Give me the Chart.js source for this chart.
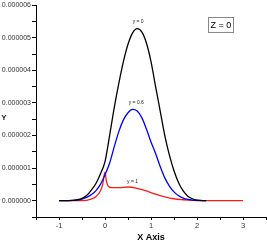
<!DOCTYPE html>
<html>
<head>
<meta charset="UTF-8">
<title>Z = 0</title>
<script src="https://cdn.jsdelivr.net/npm/chart.js"></script>
<style>
    html, body { margin: 0; padding: 0; background: #fff; }
    #wrap { width: 267px; height: 245px; }
</style>
</head>
<body>
<div id="wrap"><canvas id="chart"></canvas></div>
<script>
// curve y = 0 (black)
const blackX = [-1, -0.8, -0.6, -0.5, -0.4, -0.3, -0.2, -0.1, 0, 0.1, 0.2, 0.3, 0.4, 0.5, 0.6, 0.7, 0.8, 0.9, 1.0, 1.1, 1.2, 1.3, 1.4, 1.5, 1.6, 1.7, 1.8, 1.9, 2.0, 2.2];
const blackY = [0, 0, 0.03e-6, 0.07e-6, 0.16e-6, 0.32e-6, 0.52e-6, 0.82e-6, 1.2e-6, 2.0e-6, 2.85e-6, 3.6e-6, 4.27e-6, 4.8e-6, 5.15e-6, 5.28e-6, 5.18e-6, 4.84e-6, 4.27e-6, 3.5e-6, 2.75e-6, 2.0e-6, 1.4e-6, 0.92e-6, 0.55e-6, 0.3e-6, 0.14e-6, 0.06e-6, 0.02e-6, 0];
// curve y = 0.6 (blue)
const blueX = [-1, -0.6, -0.5, -0.4, -0.3, -0.2, -0.1, 0, 0.1, 0.2, 0.3, 0.4, 0.5, 0.6, 0.7, 0.8, 0.9, 1.0, 1.1, 1.2, 1.3, 1.4, 1.5, 1.6, 1.7, 1.8, 1.9, 2.0, 2.2];
const blueY = [0, 0.02e-6, 0.05e-6, 0.1e-6, 0.18e-6, 0.3e-6, 0.5e-6, 0.8e-6, 1.15e-6, 1.65e-6, 2.12e-6, 2.48e-6, 2.7e-6, 2.8e-6, 2.75e-6, 2.55e-6, 2.2e-6, 1.8e-6, 1.45e-6, 1.05e-6, 0.7e-6, 0.45e-6, 0.27e-6, 0.15e-6, 0.08e-6, 0.04e-6, 0.02e-6, 0.01e-6, 0];
// curve y = 1 (red)
const redX = [-1, -0.5, -0.3, -0.2, -0.1, -0.05, 0, 0.03, 0.07, 0.15, 0.3, 0.5, 0.7, 0.9, 1.1, 1.3, 1.5, 1.7, 1.9, 2.1, 3];
const redY = [0, 0, 0.05e-6, 0.12e-6, 0.3e-6, 0.5e-6, 0.88e-6, 0.6e-6, 0.45e-6, 0.4e-6, 0.4e-6, 0.42e-6, 0.38e-6, 0.3e-6, 0.2e-6, 0.12e-6, 0.06e-6, 0.03e-6, 0.01e-6, 0, 0];

const seriesNames = ['y = 0', 'y = 0.6', 'y = 1'];
const xTicks = [-1.5, -1, -0.5, 0, 0.5, 1, 1.5, 2, 2.5, 3, 3.5];
const yTicks = [-0.5e-6, 0, 0.5e-6, 1e-6, 1.5e-6, 2e-6, 2.5e-6, 3e-6, 3.5e-6, 4e-6, 4.5e-6, 5e-6, 5.5e-6, 6e-6];

function toPoints(xs, ys) {
    return xs.map((v, i) => ({x: v, y: ys[i]}));
}

// curve names, Y title and the Z = 0 box
const notes = {
    id: 'notes',
    afterDatasetsDraw(chart) {
        const {ctx, scales: {x, y}} = chart;
        ctx.save();
        ctx.fillStyle = '#222';
        ctx.textAlign = 'center';
        ctx.textBaseline = 'middle';
        ctx.font = '5px Arial';
        ctx.fillText(seriesNames[0], x.getPixelForValue(0.72), y.getPixelForValue(5.5e-6));
        ctx.fillText(seriesNames[1], x.getPixelForValue(0.68), y.getPixelForValue(3.0e-6));
        ctx.fillText(seriesNames[2], x.getPixelForValue(0.6), y.getPixelForValue(0.6e-6));

        ctx.font = 'bold 8px Arial';
        ctx.fillText('Y', 4, 118);

        ctx.strokeStyle = '#888';
        ctx.lineWidth = 1;
        ctx.strokeRect(208.5, 17.5, 25, 15);
        ctx.fillStyle = '#000';
        ctx.font = '9px Arial';
        ctx.fillText('Z = 0', 221, 25.5);
        ctx.restore();
    }
};

const lineSet = (data, color) => ({
    data: data,
    showLine: true,
    borderColor: color,
    borderWidth: 1.3,
    pointRadius: 0,
    cubicInterpolationMode: 'monotone',
    fill: false
});

new Chart(document.getElementById('chart'), {
    type: 'scatter',
    data: {
        datasets: [
            lineSet(toPoints(blackX, blackY), '#000000'),
            lineSet(toPoints(blueX, blueY), '#0000ff'),
            lineSet(toPoints(redX, redY), '#ff1a1a')
        ]
    },
    options: {
        responsive: true,
        maintainAspectRatio: false,
        animation: false,
        layout: {padding: {top: 3, right: 1, left: 0, bottom: 0}},
        plugins: {legend: {display: false}, tooltip: {enabled: false}},
        scales: {
            x: {
                type: 'linear',
                min: -1.5,
                max: 3.5,
                afterBuildTicks: s => { s.ticks = xTicks.map(v => ({value: v})); },
                afterFit: s => { s.height = 28; },
                grid: {drawOnChartArea: false, tickLength: 3, color: '#000'},
                border: {color: '#000', width: 1},
                ticks: {
                    autoSkip: false,
                    maxRotation: 0,
                    padding: 1,
                    color: '#333',
                    font: {family: 'Arial', size: 7.5},
                    callback: v => Number.isInteger(v) && v > -1.5 && v < 3.5 ? String(v) : ''
                },
                title: {display: true, text: 'X Axis', color: '#000', font: {family: 'Arial', size: 9, weight: 'bold'}, padding: {top: 0, bottom: 2}}
            },
            y: {
                type: 'linear',
                min: -0.5e-6,
                max: 6e-6,
                afterBuildTicks: s => { s.ticks = yTicks.map(v => ({value: v})); },
                afterFit: s => { s.width = 36; },
                grid: {drawOnChartArea: false, tickLength: 4, color: '#000'},
                border: {color: '#000', width: 1},
                ticks: {
                    autoSkip: false,
                    padding: 1,
                    color: '#333',
                    font: {family: 'Arial', size: 7},
                    callback: v => {
                        const m = Math.round(v * 1e7);
                        return m >= 0 && m % 10 === 0 ? v.toFixed(6) : '';
                    }
                }
            }
        }
    },
    plugins: [notes]
});
</script>
</body>
</html>
